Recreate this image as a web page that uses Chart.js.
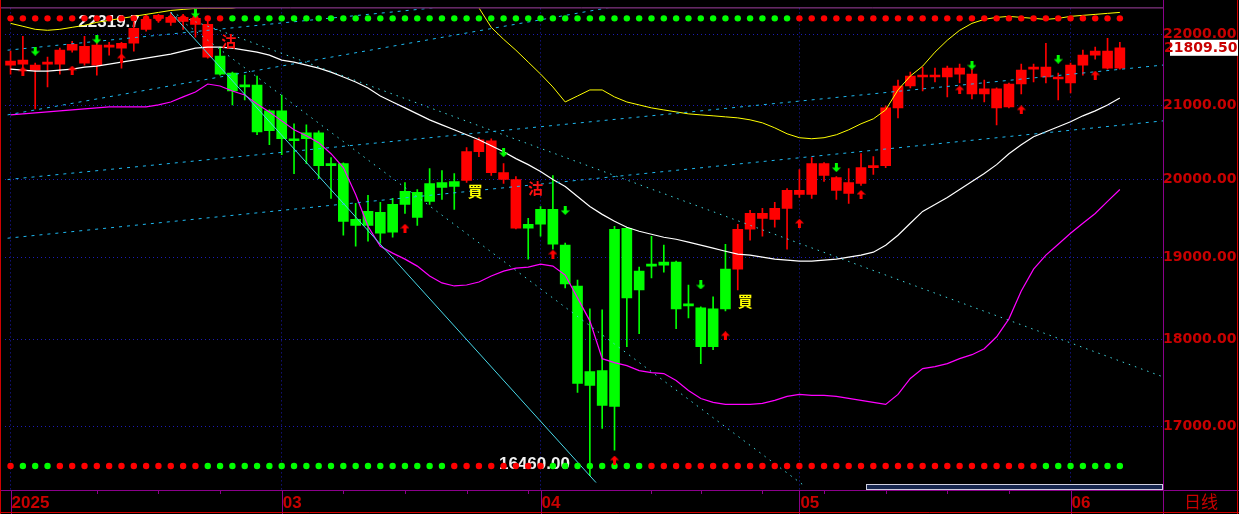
<!DOCTYPE html>
<html>
<head>
<meta charset="utf-8">
<script src="https://cdn.jsdelivr.net/npm/chart.js@4.4.1/dist/chart.umd.min.js"></script>
<style>
  html, body { margin: 0; padding: 0; background: #000; }
  canvas { display: block; }
</style>
</head>
<body>
<canvas id="kline" width="1239" height="514"></canvas>
<script>
// daily bars, mid Jan 2025 -> early Jun 2025 (index 0..90)
const open = [21563,21577,21492,21577,21577,21775,21591,21563,21818,21804,
  21875,22076,22236,22178,22192,22149,21676,21690,21450,21282,
  21282,20923,20923,20543,20624,20624,20210,20210,19482,19584,
  19571,19674,19843,19830,19947,19960,19973,19986,20369,20091,
  19999,19368,19419,19610,19610,19154,18647,17626,17637,19356,
  19368,18830,18917,18942,18942,18428,18380,18368,18855,18855,
  19356,19495,19482,19623,19804,19804,20052,19856,19817,19947,
  20157,20183,20964,21268,21394,21394,21394,21436,21157,21157,
  20964,20977,21296,21506,21394,21366,21310,21563,21704,21520,
  21520];
const high = [21761,21975,21591,21676,21804,21903,21975,21990,21889,21889,
  22178,22280,22294,22319.7,22294,22310,22207,21818,21464,21422,
  21408,20936,21143,20746,20732,20651,20289,20220,19687,19791,
  19700,19752,19960,19869,20144,20117,20078,20423,20557,20543,
  20210,20039,19495,19648,20052,19179,18720,18368,18356,19394,
  19381,18880,19267,19154,18954,18659,18392,18513,19166,19419,
  19597,19623,19700,19882,20131,20289,20223,20039,20144,20342,
  20302,20991,21352,21464,21534,21520,21548,21577,21506,21352,
  21241,21310,21577,21577,21875,21450,21591,21775,21818,21947,
  21889];
const low = [21436,21492,20950,21255,21436,21747,21563,21422,21704,21520,
  21761,22048,22178,22134,22076,21961,21662,21422,21005,21074,
  20597,20463,20329,20078,20210,20012,19752,19280,19141,19204,
  19179,19254,19558,19406,19674,19739,19610,19960,20302,20052,
  19947,19360,18979,19267,19103,18623,17385,16460,16980,16738,
  17917,18070,18745,18818,18129,18260,17718,17882,18344,18598,
  19217,19267,19381,19103,19765,19752,19973,19739,19687,19921,
  20065,20157,20827,21241,21199,21324,21116,21310,21088,21046,
  20732,20964,21157,21324,21310,21074,21171,21422,21647,21506,
  21506];
const close = [21619,21633,21563,21605,21775,21861,21832,21847,21847,21875,
  22091,22221,22280,22250,22250,22236,22149,21436,21199,21255,
  20637,20651,20543,20516,20543,20183,20183,19457,19406,19406,
  19305,19317,19674,19508,19713,19895,19908,20369,20530,20516,
  20091,19999,19368,19419,19166,18672,17489,17466,17239,17227,
  18501,18598,18892,18905,18368,18404,17917,17917,18368,19356,
  19558,19558,19623,19856,19856,20210,20210,20026,19960,20157,
  20183,20964,21268,21408,21422,21422,21520,21520,21436,21227,
  21227,21296,21492,21534,21534,21394,21563,21704,21761,21761,
  21809.5];

// bollinger bands
const bollUpper = [22163,22120,22076,22062,22076,22105,22134,22178,22207,22236,
  22265,22294,22323,22352,22367,22382,22382,22382,22382,22426,
  22503,22526,22507,22559,22556,22550,22599,22657,22870,23101,
  23117,23038,22949,22872,22831,22780,22681,22535,22390,22105,
  21932,21775,21605,21436,21255,21046,21129,21213,21213,21116,
  21046,21005,20964,20936,20909,20882,20868,20855,20841,20827,
  20800,20759,20691,20610,20557,20543,20557,20597,20664,20746,
  20814,20936,21213,21408,21548,21747,21918,22062,22163,22221,
  22250,22265,22250,22236,22221,22236,22265,22280,22294,22309,
  22323];
const bollMid = [21506,21492,21478,21478,21492,21506,21534,21548,21577,21605,
  21633,21662,21690,21718,21761,21804,21818,21818,21804,21775,
  21747,21704,21633,21605,21563,21520,21464,21394,21324,21241,
  21129,21046,20964,20882,20800,20732,20664,20597,20530,20449,
  20369,20276,20196,20104,19999,19908,19778,19648,19546,19457,
  19381,19330,19292,19254,19229,19192,19154,19116,19078,19041,
  19029,19004,18979,18967,18954,18954,18967,18979,19004,19029,
  19066,19154,19280,19432,19584,19674,19765,19869,19973,20078,
  20196,20342,20463,20570,20637,20705,20773,20855,20923,21005,
  21102];
const bollLower = [20868,20882,20895,20909,20923,20936,20950,20964,20977,20977,
  20977,20977,21005,21046,21116,21185,21296,21268,21199,21143,
  21019,20909,20786,20664,20584,20490,20342,20157,19804,19394,
  19141,19054,18979,18892,18769,18684,18647,18659,18696,18769,
  18830,18867,18880,18917,18892,18781,18501,18224,17776,17730,
  17695,17637,17614,17603,17523,17408,17317,17272,17250,17250,
  17250,17261,17295,17340,17363,17351,17351,17340,17317,17295,
  17272,17250,17363,17546,17660,17683,17718,17776,17823,17893,
  18034,18248,18586,18855,19029,19166,19305,19432,19558,19713,
  19869];

// state dots along the top and bottom (1 = red, 0 = green)
const topState = [1,1,1,1,1,1,1,1,1,1, 1,1,1,1,1,1,1,1,0,0,
  0,0,0,0,0,0,0,0,0,0, 0,0,0,0,0,0,0,0,0,0, 0,0,0,0,0,0,0,0,0,0,
  0,0,0,0,0,0,0,0,0,0, 0,0,0,0,1,1,1,1,1,1, 1,1,1,1,1,1,1,1,1,1,
  1,1,1,1,1,1,1,1,1,1, 1];
const bottomState = [1,0,0,0,1,1,1,1,1,1, 1,1,1,1,1,1,0,0,0,0,
  0,0,0,0,0,0,0,0,0,0, 0,0,0,0,0,0,1,1,1,1, 1,1,1,1,0,0,0,0,0,0,
  0,0,1,1,1,1,1,1,1,1, 1,1,1,1,1,1,1,1,1,1, 1,1,1,1,1,1,1,1,1,1,
  1,1,1,1,0,0,0,0,0,0, 0];
const topDotLevel = 22236;
const bottomDotLevel = 16564;

const monthIdx = [0, 22, 43, 64, 86];
const monthLabels = ['2025', '03', '04', '05', '06'];
const weekIdx = [7, 12, 17, 27, 32, 37, 42, 52, 56, 61, 66, 71, 76, 81];
const priceTicks = [17000, 18000, 19000, 20000, 21000, 22000];

// buy (red up) and sell (green down) arrows
const buyIdx = [1, 5, 9, 32, 44, 49, 58, 64, 69, 77, 82, 88];
const buyPrice = [21478, 21492, 21662, 19368, 19041, 16629, 18046, 19432, 19804, 21213, 20936, 21422];
const sellIdx = [2, 7, 15, 40, 45, 56, 67, 78, 85];
const sellPrice = [21761, 21932, 22309, 20356, 19597, 18659, 20157, 21563, 21647];

// text signals
const noteIdx = [17.7, 37.7, 42.6, 59.6];
const notePrice = [21903, 19843, 19882, 18464];
const noteText = ['沽', '買', '沽', '買'];

// drawn lines: [idx0, price0, idx1, price1]
const dashLines = [
  [-0.24, 21775, 38.6, 22467],
  [-0.24, 20868, 50.8, 22467],
  [-0.24, 19999, 93.5, 21563],
  [-0.24, 19242, 93.5, 20786]
];
const fanLines = [
  [13, 22319.7, 64.5, 16340],
  [13, 22319.7, 93.5, 17565]
];
const hiLoLine = [13, 22319.7, 47.5, 16385];

const RED = '#ff0000', GREEN = '#00ff00';
const AXIS_RED = '#c80000', PURPLE = '#8b008b', GRID = '#1c1cb4';

const xs = close.map((_, i) => i);
const barColor = xs.map(i => close[i] >= open[i] ? RED : GREEN);

function arrowImage(color, up) {
  const c = document.createElement('canvas');
  c.width = 9; c.height = 9;
  const g = c.getContext('2d');
  g.fillStyle = color;
  g.beginPath();
  if (up) { g.moveTo(4.5, 0); g.lineTo(9, 4.5); g.lineTo(0, 4.5); }
  else { g.moveTo(4.5, 9); g.lineTo(9, 4.5); g.lineTo(0, 4.5); }
  g.closePath();
  g.fill();
  if (up) g.fillRect(3, 4, 3, 5); else g.fillRect(3, 0, 3, 5);
  return c;
}

function seg(p, color, dash) {
  return {
    type: 'line',
    data: [{x: p[0], y: p[1]}, {x: p[2], y: p[3]}],
    borderColor: color, borderWidth: 1, borderDash: dash,
    pointRadius: 0, order: 4
  };
}

const chrome = {
  id: 'chrome',
  beforeDraw(chart) {
    const c = chart.ctx;
    c.save();
    c.fillStyle = '#000';
    c.fillRect(0, 0, chart.width, chart.height);
    c.restore();
  },
  beforeDatasetsDraw(chart) {
    // extreme price labels sit under the bars and dots
    const c = chart.ctx;
    const x = chart.scales.x, y = chart.scales.y;
    c.save();
    c.fillStyle = '#f0f0f0';
    c.font = 'bold 17px "Liberation Sans", Arial, sans-serif';
    c.textAlign = 'right';
    c.textBaseline = 'middle';
    c.fillText(high[13].toFixed(1), x.getPixelForValue(13) - 31, y.getPixelForValue(high[13]) + 10);
    c.fillText(low[47].toFixed(2), x.getPixelForValue(47) - 20, y.getPixelForValue(low[47]) - 11);
    c.restore();
  },
  afterDraw(chart) {
    const c = chart.ctx;
    const a = chart.chartArea;
    const x = chart.scales.x, y = chart.scales.y;
    c.save();

    // top line, axis lines and window frame
    c.lineWidth = 1;
    c.strokeStyle = '#a040a0';
    c.beginPath(); c.moveTo(0, a.top - 0.5); c.lineTo(a.right, a.top - 0.5); c.stroke();
    c.strokeStyle = PURPLE;
    c.beginPath(); c.moveTo(0, a.bottom + 0.5); c.lineTo(chart.width, a.bottom + 0.5); c.stroke();
    c.beginPath(); c.moveTo(a.right + 0.5, 0); c.lineTo(a.right + 0.5, chart.height); c.stroke();
    monthIdx.forEach(m => {
      const px = Math.round(x.getPixelForValue(m)) + 0.5;
      c.beginPath(); c.moveTo(px, a.bottom); c.lineTo(px, chart.height); c.stroke();
    });
    weekIdx.forEach(w => {
      const px = Math.round(x.getPixelForValue(w)) + 0.5;
      c.beginPath(); c.moveTo(px, a.bottom); c.lineTo(px, a.bottom + 4); c.stroke();
    });
    c.strokeStyle = '#d00000';
    c.beginPath(); c.moveTo(0.5, 0); c.lineTo(0.5, chart.height); c.stroke();
    c.beginPath(); c.moveTo(chart.width - 1.5, 0); c.lineTo(chart.width - 1.5, chart.height); c.stroke();
    c.beginPath(); c.moveTo(0, chart.height - 1.5); c.lineTo(chart.width, chart.height - 1.5); c.stroke();

    // scroll bar
    c.fillStyle = '#16264e';
    c.fillRect(866, a.bottom - 5, a.right - 867, 4);
    c.strokeStyle = '#d0d0e0';
    c.strokeRect(866.5, a.bottom - 5.5, a.right - 867, 5);

    // buy / sell notes
    c.textAlign = 'center';
    c.textBaseline = 'middle';
    c.font = 'bold 15px "Noto Sans CJK TC", sans-serif';
    noteText.forEach((t, i) => {
      c.fillStyle = t === '買' ? '#ffff00' : '#ff1010';
      c.fillText(t, x.getPixelForValue(noteIdx[i]), y.getPixelForValue(notePrice[i]));
    });

    // last price tag
    const last = close[close.length - 1];
    const py = y.getPixelForValue(last);
    c.fillStyle = '#ffffff';
    c.fillRect(a.right + 7, py - 8, 68, 16);
    c.fillStyle = AXIS_RED;
    c.font = 'bold 14px "DejaVu Sans", sans-serif';
    c.textAlign = 'left';
    c.fillText(last.toFixed(2), a.right + 1, py + 1);

    // period caption
    c.font = '17px "Noto Sans CJK SC", sans-serif';
    c.fillText('日线', 1184, a.bottom + 12);
    c.restore();
  }
};

const datasets = [
  { type: 'bar', data: xs.map(i => ({x: i, y: [low[i], high[i]]})),
    backgroundColor: barColor, barThickness: 1, grouped: false, order: 20 },
  { type: 'bar', data: xs.map(i => ({x: i, y: [Math.min(open[i], close[i]), Math.max(open[i], close[i])]})),
    backgroundColor: barColor, barThickness: 10, minBarLength: 2, grouped: false, order: 19 },
  { type: 'line', data: xs.map(i => ({x: i, y: bollUpper[i]})), borderColor: '#ffff00',
    borderWidth: 1, pointRadius: 0, order: 6 },
  { type: 'line', data: xs.map(i => ({x: i, y: bollMid[i]})), borderColor: '#ffffff',
    borderWidth: 1.2, pointRadius: 0, order: 6 },
  { type: 'line', data: xs.map(i => ({x: i, y: bollLower[i]})), borderColor: '#ff00ff',
    borderWidth: 1.2, pointRadius: 0, order: 6 },
  ...dashLines.map(p => seg(p, '#1eb8f0', [3, 5])),
  ...fanLines.map(p => seg(p, '#40d8e0', [1.5, 5])),
  seg(hiLoLine, '#48d8e8', []),
  { type: 'scatter', data: xs.map(i => ({x: i, y: topDotLevel})),
    pointBackgroundColor: topState.map(s => s ? RED : GREEN), pointBorderWidth: 0,
    pointRadius: 3.2, order: 2 },
  { type: 'scatter', data: xs.map(i => ({x: i, y: bottomDotLevel})),
    pointBackgroundColor: bottomState.map(s => s ? RED : GREEN), pointBorderWidth: 0,
    pointRadius: 3.2, order: 2 },
  { type: 'scatter', data: buyIdx.map((b, i) => ({x: b, y: buyPrice[i]})),
    pointStyle: arrowImage(RED, true), order: 1 },
  { type: 'scatter', data: sellIdx.map((s, i) => ({x: s, y: sellPrice[i]})),
    pointStyle: arrowImage(GREEN, false), order: 1 }
];

new Chart(document.getElementById('kline'), {
  type: 'bar',
  data: { datasets },
  options: {
    responsive: false,
    animation: false,
    events: [],
    layout: { padding: { top: 6, left: 2, right: 0, bottom: 0 } },
    plugins: { legend: { display: false }, tooltip: { enabled: false } },
    scales: {
      x: {
        type: 'linear', min: -0.45, max: 93.5, bounds: 'data', offset: false,
        afterBuildTicks: s => { s.ticks = monthIdx.map(v => ({value: v})); },
        afterFit: s => { s.height = 24; },
        ticks: {
          autoSkip: false, maxRotation: 0, align: 'start', labelOffset: 1, padding: 3,
          color: AXIS_RED, font: { family: '"Liberation Sans", Arial, sans-serif', size: 17, weight: 'bold' },
          callback: (v, i) => monthLabels[i]
        },
        grid: { color: GRID, drawTicks: false, offset: false },
        border: { display: true, color: PURPLE, dash: [1, 3] }
      },
      y: {
        type: 'logarithmic', position: 'right', min: 16305, max: 22382, bounds: 'data',
        afterBuildTicks: s => { s.ticks = priceTicks.map(v => ({value: v})); },
        afterFit: s => { s.width = 76; },
        ticks: {
          autoSkip: false, padding: 0, color: AXIS_RED,
          font: { family: '"DejaVu Sans", sans-serif', size: 14, weight: 'bold' },
          callback: v => Number(v).toFixed(2)
        },
        grid: { color: GRID, drawTicks: false },
        border: { display: true, color: PURPLE, dash: [1, 3] }
      }
    }
  },
  plugins: [chrome]
});
</script>
</body>
</html>
